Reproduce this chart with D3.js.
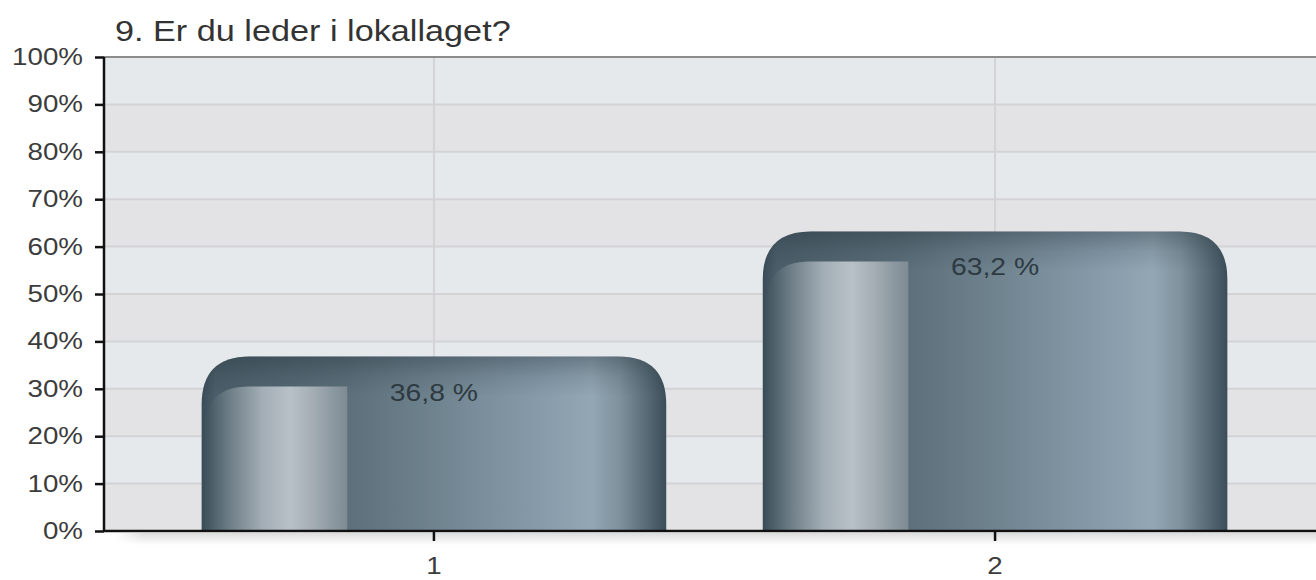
<!DOCTYPE html>
<html>
<head>
<meta charset="utf-8">
<script src="https://cdn.jsdelivr.net/npm/d3@7"></script>
<style>
    body { margin: 0; background: #fff; }
    text { font-family: "Liberation Sans", Arial, sans-serif; }
</style>
</head>
<body>
<div id="chart"></div>
<script>
// Chart data
const title = "9. Er du leder i lokallaget?";
const categories = ["1", "2"];
const values = [36.8, 63.2];
const yTicks = [0, 10, 20, 30, 40, 50, 60, 70, 80, 90, 100];

const svgWidth = 1316;
const svgHeight = 580;
const margin = { top: 57, right: -9, bottom: 49, left: 104 };
const width = svgWidth - margin.left - margin.right;
const height = svgHeight - margin.top - margin.bottom;
const stretch = 1.18; // the picture is a bit wider than tall

const svg = d3.select("#chart").append("svg")
    .attr("width", svgWidth)
    .attr("height", svgHeight);

const defs = svg.append("defs");

function addGradient(id, stops, attrs) {
    const g = defs.append("linearGradient").attr("id", id);
    Object.entries(attrs || {}).forEach(([k, v]) => g.attr(k, v));
    stops.forEach(s => g.append("stop")
        .attr("offset", s[0])
        .attr("stop-color", s[1])
        .attr("stop-opacity", s[2] === undefined ? 1 : s[2]));
}

addGradient("barGrad", [
    [0, "#394c57"], [0.03, "#4b5e69"], [0.3, "#5b6e79"], [0.5, "#6f838f"],
    [0.74, "#889cab"], [0.84, "#93a7b4"], [0.9, "#7e919d"], [0.96, "#566974"], [1, "#3a4d58"]
], { x1: 0, y1: 0, x2: 1, y2: 0 });

addGradient("innerGrad", [
    [0, "#3e525c"], [0.18, "#6f7f88"], [0.4, "#a2adb5"], [0.6, "#b9c1c8"],
    [0.76, "#a4adb4"], [0.9, "#8b98a0"], [1, "#7e8b93"]
], { x1: 0, y1: 0, x2: 1, y2: 0 });

addGradient("shadowGrad", [
    [0, "#dcdcdc"], [1, "#ffffff"]
], { x1: 0, y1: 0, x2: 0, y2: 1 });

addGradient("shadowFade", [
    [0, "#fff", 0], [1, "#fff", 1]
], { x1: 0, y1: 0, x2: 1, y2: 0 });

const chart = svg.append("g")
    .attr("transform", `translate(${margin.left}, ${margin.top})`);

// Scales
const xScale = d3.scaleBand()
    .domain(categories)
    .range([0, width])
    .paddingInner(0.172)
    .paddingOuter(0.174);

const yScale = d3.scaleLinear()
    .domain([0, 100])
    .range([height, 0]);

// Alternating background bands
chart.selectAll(".band")
    .data(yTicks.slice(0, -1))
    .enter()
    .append("rect")
    .attr("x", 0)
    .attr("y", d => yScale(d + 10))
    .attr("width", width)
    .attr("height", d => yScale(d) - yScale(d + 10))
    .attr("fill", (d, i) => i % 2 === 0 ? "#e3e3e5" : "#e6e9ec");

// Grid lines
chart.selectAll(".hgrid")
    .data(yTicks.slice(1, -1))
    .enter()
    .append("line")
    .attr("x1", 0)
    .attr("x2", width)
    .attr("y1", d => yScale(d))
    .attr("y2", d => yScale(d))
    .attr("stroke", "#d3d3d6")
    .attr("stroke-width", 2);

chart.selectAll(".vgrid")
    .data(categories)
    .enter()
    .append("line")
    .attr("x1", d => xScale(d) + xScale.bandwidth() / 2)
    .attr("x2", d => xScale(d) + xScale.bandwidth() / 2)
    .attr("y1", 0)
    .attr("y2", height)
    .attr("stroke", "#d3d3d6")
    .attr("stroke-width", 2);

// Top border
chart.append("line")
    .attr("x1", 0).attr("x2", width)
    .attr("y1", 0).attr("y2", 0)
    .attr("stroke", "#8c8c8c")
    .attr("stroke-width", 2);

// Shadow under the x axis
chart.append("rect")
    .attr("x", 10).attr("y", height + 2)
    .attr("width", width).attr("height", 12)
    .attr("fill", "url(#shadowGrad)");
chart.append("rect")
    .attr("x", 0).attr("y", height + 2)
    .attr("width", 30).attr("height", 12)
    .attr("fill", "url(#shadowFade)")
    .attr("transform", `scale(-1,1) translate(${-40},0)`);

// Bars with rounded top corners
function topRounded(x, y, w, h, r) {
    r = Math.min(r, h, w / 2);
    return `M${x},${y + h}V${y + r}Q${x},${y} ${x + r},${y}H${x + w - r}` +
        `Q${x + w},${y} ${x + w},${y + r}V${y + h}Z`;
}

// only the top-left corner rounded (gloss strip)
function leftRounded(x, y, w, h, r) {
    r = Math.min(r, h, w);
    return `M${x},${y + h}V${y + r}Q${x},${y} ${x + r},${y}H${x + w}V${y + h}Z`;
}

const bars = chart.selectAll(".bar")
    .data(categories.map((c, i) => ({ cat: c, value: values[i] })))
    .enter()
    .append("g")
    .attr("class", "bar");

bars.each(function(d, i) {
    const g = d3.select(this);
    const x = xScale(d.cat);
    const w = xScale.bandwidth();
    const y = yScale(d.value);
    const h = height - y;

    g.append("path")
        .attr("d", topRounded(x, y, w, h, 48))
        .attr("fill", "url(#barGrad)");

    // darker top edge
    addGradient("topShade" + i, [
        [0, "#1c2a33", 0.35], [0.5, "#1c2a33", 0.12], [1, "#1c2a33", 0]
    ], { x1: 0, y1: y, x2: 0, y2: y + 40, gradientUnits: "userSpaceOnUse" });
    g.append("path")
        .attr("d", topRounded(x, y, w, h, 48))
        .attr("fill", `url(#topShade${i})`);

    // glossy inner highlight on the left
    const iw = w * 0.307;
    g.append("path")
        .attr("d", leftRounded(x + 3, y + 30, iw, h - 30, 44))
        .attr("fill", "url(#innerGrad)");
});

// Axes
const yAxis = d3.axisLeft(yScale)
    .tickValues(yTicks)
    .tickFormat(d => d + "%")
    .tickSize(9)
    .tickPadding(12);

const xAxis = d3.axisBottom(xScale)
    .tickSize(10)
    .tickPadding(16);

const yAxisG = chart.append("g")
    .attr("id", "y-axis")
    .call(yAxis);

const xAxisG = chart.append("g")
    .attr("id", "x-axis")
    .attr("transform", `translate(0, ${height})`)
    .call(xAxis);

[yAxisG, xAxisG].forEach(a => {
    a.select(".domain").attr("stroke", "#111").attr("stroke-width", 2.5);
    a.selectAll(".tick line").attr("stroke", "#111").attr("stroke-width", 2.5);
    a.selectAll("text")
        .attr("fill", "#3c3c3c")
        .style("font-size", "23.5px");
});
xAxisG.select(".domain").attr("d", `M0,0H${width}`);
yAxisG.select(".domain").attr("d", `M0,${height}V0`);

// Value labels
const fmt = d3.formatLocale({ decimal: ",", thousands: " ", grouping: [3], currency: ["", ""] }).format(".1f");
bars.append("text")
    .attr("x", d => xScale(d.cat) + xScale.bandwidth() / 2)
    .attr("y", d => yScale(d.value) + 44)
    .attr("text-anchor", "middle")
    .attr("fill", "#2e3a41")
    .style("font-size", "24px")
    .text(d => fmt(d.value) + " %");

// Title
svg.append("text")
    .attr("id", "title")
    .attr("x", 115)
    .attr("y", 41)
    .attr("fill", "#333")
    .style("font-size", "29px")
    .text(title);

// widen all text to match the picture's aspect
svg.selectAll("text").each(function() {
    const len = this.getComputedTextLength();
    d3.select(this)
        .attr("textLength", len * stretch)
        .attr("lengthAdjust", "spacingAndGlyphs");
});
</script>
</body>
</html>
